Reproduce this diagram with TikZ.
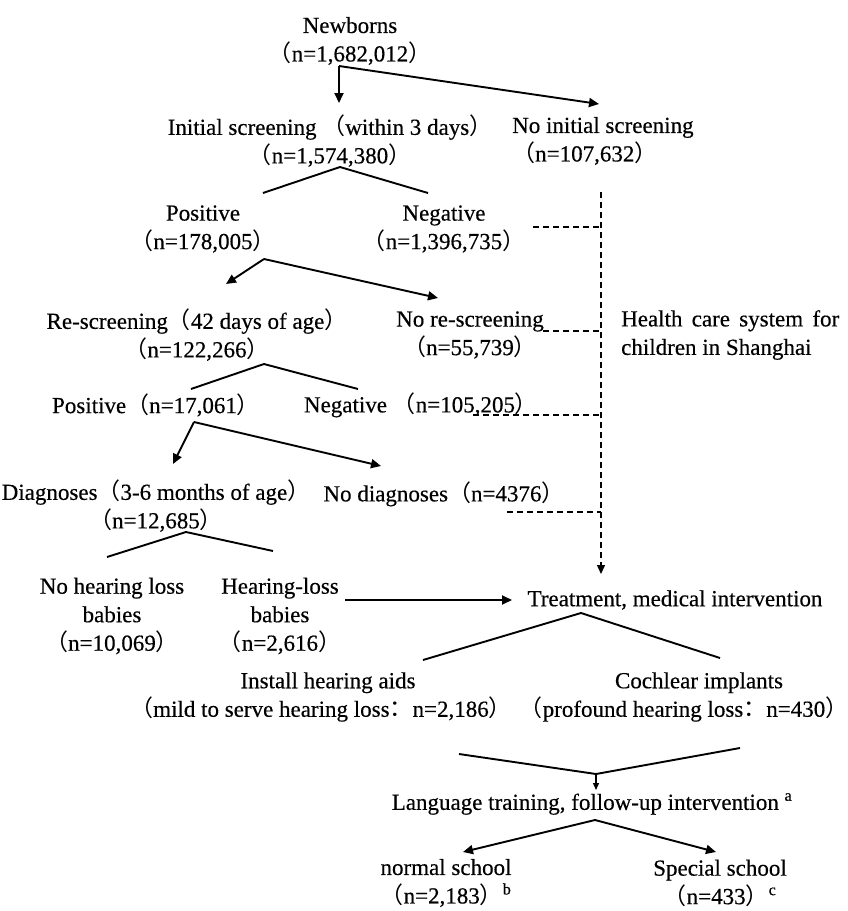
\documentclass[tikz,border=0pt]{standalone}
\usepackage{fontspec}
\setmainfont{Liberation Serif}[FakeBold=0.4]
\newfontfamily\cjk{Noto Sans CJK SC}
\usetikzlibrary{arrows.meta}
\newcommand{\lp}{{\cjk （}}
\newcommand{\rp}{{\cjk ）}}
\newcommand{\fc}{{\cjk ：}}
\begin{document}
\begin{tikzpicture}[x=1pt,y=-1pt,
  txt/.style={inner sep=0pt, align=center, font=\fontsize{23}{28.5}\selectfont},
  ln/.style={line width=1.9pt},
  arr/.style={line width=1.9pt, -{Triangle[length=10pt,width=9pt]}},
  dsh/.style={line width=1.4pt, dash pattern=on 6pt off 4pt}]
\useasboundingbox (0,0) rectangle (847,911);
% nodes
\node[txt] (nb) at (350,41) {Newborns\\\lp n=1,682,012\rp};
\node[txt] (init) at (330,141) {Initial screening \lp within 3 days\rp\\\lp n=1,574,380\rp};
\node[txt, align=left, anchor=west] (noinit) at (512,141) {No initial screening\\\lp n=107,632\rp};
\node[txt] (pos1) at (203,229) {Positive\\\lp n=178,005\rp};
\node[txt] (neg1) at (444,229) {Negative\\\lp n=1,396,735\rp};
\node[txt] (rescr) at (197,335) {Re-screening\lp 42 days of age\rp\\\lp n=122,266\rp};
\node[txt] (norescr) at (470,335) {No re-screening\\\lp n=55,739\rp};
\node[txt, align=left, anchor=west] (health) at (621,335) {\makebox[218pt][s]{Health care system for}\\children in Shanghai};
\node[txt] (pos2) at (156,405) {Positive\lp n=17,061\rp};
\node[txt] (neg2) at (421,405) {Negative \lp n=105,205\rp};
\node[txt] (diag) at (156,506) {Diagnoses\lp 3-6 months of age\rp\\\lp n=12,685\rp};
\node[txt] (nodiag) at (444,494) {No diagnoses\lp n=4376\rp};
\node[txt] (nohl) at (112,616) {No hearing loss\\babies\\\lp n=10,069\rp};
\node[txt] (hl) at (280,616) {Hearing-loss\\babies\\\lp n=2,616\rp};
\node[txt] (treat) at (675,600) {Treatment, medical intervention};
\node[txt] (aids) at (321,697) {\hspace*{14pt}Install hearing aids\\\lp mild to serve hearing loss\fc n=2,186\rp};
\node[txt] (coch) at (684,697) {\hspace*{30pt}Cochlear implants\\\lp profound hearing loss\fc n=430\rp};
\node[txt] (lang) at (592,804) {Language training, follow-up intervention \textsuperscript{a}};
\node[txt] (normal) at (446,883) {normal school\\\lp n=2,183\rp\textsuperscript{b}};
\node[txt] (special) at (720,883) {Special school\\\lp n=433\rp\textsuperscript{c}};
% coordinates
\coordinate (nbS) at (339,66);
\coordinate (initN) at (339,103);
\coordinate (noinitN) at (599,104);
\coordinate (initS) at (340,167);
\coordinate (pos1N) at (263,193);
\coordinate (neg1N) at (428,193);
\coordinate (pos1S) at (264,259);
\coordinate (rescrN) at (226,284);
\coordinate (norescrN) at (438,298);
\coordinate (rescrS) at (264,364);
\coordinate (pos2N) at (191,389);
\coordinate (neg2N) at (358,389);
\coordinate (pos2S) at (194,422);
\coordinate (diagN) at (173,464);
\coordinate (nodiagN) at (381,466);
\coordinate (diagS) at (186,532);
\coordinate (nohlN) at (107,557);
\coordinate (hlN) at (273,551);
\coordinate (hlE) at (345,600);
\coordinate (treatW) at (512,600);
\coordinate (treatS) at (581,613);
\coordinate (aidsN) at (423,660);
\coordinate (cochN) at (720,658);
\coordinate (aidsS) at (459,754);
\coordinate (cochS) at (740,748);
\coordinate (merge) at (596,774);
\coordinate (langN) at (596,790);
\coordinate (langS) at (595,820);
\coordinate (normalN) at (463,852);
\coordinate (specialN) at (716,852);
\coordinate (dTop) at (601,192);
\coordinate (dBot) at (601,574);
\coordinate (d1) at (533,227);
\coordinate (d2) at (543,331);
\coordinate (d3) at (473,415);
\coordinate (d4) at (507,512);
% connectors
\draw[arr] (nbS) -- (initN);
\draw[arr] (nbS) -- (noinitN);
\draw[ln] (pos1N) -- (initS) -- (neg1N);
\draw[arr] (pos1S) -- (rescrN);
\draw[arr] (pos1S) -- (norescrN);
\draw[ln] (pos2N) -- (rescrS) -- (neg2N);
\draw[arr] (pos2S) -- (diagN);
\draw[arr] (pos2S) -- (nodiagN);
\draw[ln] (nohlN) -- (diagS) -- (hlN);
\draw[arr] (hlE) -- (treatW);
\draw[ln] (aidsN) -- (treatS) -- (cochN);
\draw[ln] (aidsS) -- (merge) -- (cochS);
\draw[line width=1.3pt, -{Triangle[length=7pt,width=6pt]}] (merge) -- (langN);
\draw[arr] (langS) -- (normalN);
\draw[arr] (langS) -- (specialN);
\draw[dsh, -{Triangle[length=9pt,width=8pt]}] (dTop) -- (dBot);
\draw[dsh] (d1) -- (d1 -| dTop);
\draw[dsh] (d2) -- (d2 -| dTop);
\draw[dsh] (d3) -- (d3 -| dTop);
\draw[dsh] (d4) -- (d4 -| dTop);
\end{tikzpicture}
\end{document}
